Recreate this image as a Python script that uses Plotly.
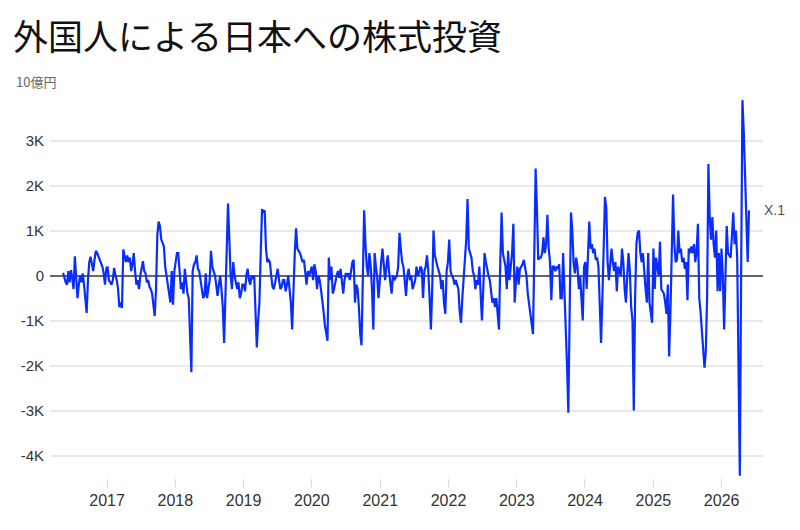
import pandas as pd
import plotly.graph_objects as go

# Weekly net purchases of Japanese stocks by foreigners, 10億円 -> shown in K (thousands)
v2016 = [0.06, -0.05, -0.15, -0.2, 0.1, -0.15, 0.12, -0.05, -0.3, 0.43, -0.1, -0.5, -0.2, 0.0, -0.15, 0.05,
         -0.2, -0.45, -0.83, -0.1, 0.3, 0.42, 0.2, 0.1, 0.35, 0.55, 0.5, 0.42, 0.38, 0.3, 0.2, 0.05, -0.2, 0.15]
v2017 = [0.2, -0.1, -0.15, -0.2, -0.1, 0.17, 0.0, -0.1, -0.3, -0.7, -0.6, -0.72, 0.58, 0.4, 0.3, 0.45,
         0.3, 0.4, 0.1, 0.25, 0.5, 0.1, -0.2, -0.1, -0.3, 0.0, 0.2, 0.32, 0.1, 0.05, -0.15, -0.1,
         -0.25, -0.3, -0.4, -0.7, -0.9, -0.3, 0.9, 1.2, 1.1, 0.8, 0.7, 0.65, 0.2, 0.0, -0.2, -0.4,
         -0.6, 0.1, -0.65, 0.1]
v2018 = [0.3, 0.5, 0.5, -0.05, -0.3, -0.15, -0.4, 0.15, -0.2, -0.4, -0.5, -1.2, -2.15, 0.1, 0.25, 0.3,
         0.45, 0.15, 0.1, -0.1, -0.3, -0.5, -0.45, 0.05, -0.5, -0.3, -0.1, 0.55, 0.2, 0.1, 0.0, -0.2,
         -0.45, -0.2, 0.0, -0.3, -0.7, -1.5, -0.3, 0.5, 1.6, 0.8, 0.0, -0.3, 0.3, 0.0, -0.2, -0.3,
         -0.15, -0.5, -0.4, -0.2]
v2019 = [-0.2, -0.35, 0.0, 0.15, -0.1, -0.2, 0.0, -0.05, 0.0, -0.8, -1.6, -1.0, -0.6, 0.5, 1.48, 1.4,
         1.45, 0.6, 0.3, 0.35, 0.3, 0.0, -0.25, -0.3, -0.15, 0.0, 0.15, -0.1, -0.3, -0.25, -0.1, -0.1,
         -0.35, -0.2, 0.0, -0.3, -0.6, -1.2, -0.2, 0.5, 1.05, 0.6, 0.55, 0.5, 0.4, 0.3, 0.35, 0.1,
         -0.2, 0.1, 0.0, 0.1]
v2020 = [0.2, -0.1, 0.25, 0.1, -0.3, 0.0, -0.1, -0.3, -0.5, -0.8, -1.1, -1.3, -1.45, 0.4, -0.1, 0.2,
         -0.4, -0.3, -0.1, 0.0, 0.1, -0.05, 0.15, -0.2, -0.4, -0.1, 0.05, 0.0, 0.05, -0.1, 0.15, 0.3,
         0.35, -0.6, -0.2, -0.3, -0.7, -1.3, -1.55, 0.2, 1.45, 0.7, 0.2, 0.0, 0.5, 0.2, -0.3, -1.2,
         0.5, 0.2, -0.05, -0.5]
v2021 = [0.0, 0.3, 0.6, 0.2, -0.1, 0.2, 0.45, 0.1, -0.2, -0.4, 0.0, -0.1, -0.05, 0.0, 0.2, 0.95,
         0.6, 0.3, 0.2, -0.1, -0.45, 0.0, 0.15, -0.1, 0.0, -0.3, -0.2, -0.1, 0.2, 0.0, 0.05, 0.2,
         0.15, -0.5, 0.1, 0.2, 0.45, 0.1, -0.5, -1.2, -0.3, 1.0, 0.45, 0.3, 0.2, 0.1, 0.0, -0.3,
         -0.1, -0.6, -0.85, 0.1]
v2022 = [0.3, 0.8, 0.1, 0.0, -0.05, -0.2, -0.1, -0.2, -0.3, -0.8, -1.05, -0.5, 0.0, 0.3, 0.8, 1.7,
         0.6, 0.5, 0.4, 0.1, 0.0, -0.3, -0.1, -0.2, 0.2, -0.4, -1.0, -0.3, 0.5, 0.3, 0.1, 0.0,
         -0.1, -0.3, -0.6, -0.5, -0.7, -0.5, -0.9, -1.2, 0.3, 1.4, 0.5, 0.3, 0.2, -0.3, 0.55, -0.1,
         0.2, 0.5, 1.15, -0.6]
v2023 = [-0.1, 0.2, -0.2, 0.15, 0.2, 0.25, 0.35, 0.15, 0.0, -0.4, -0.6, -0.9, -1.1, -1.3, 0.5, 2.38,
         1.5, 0.35, 0.4, 0.4, 0.5, 0.85, 0.5, 0.7, 1.35, 0.6, 0.3, -0.55, 0.2, 0.2, 0.1, 0.2,
         0.15, 0.25, -0.5, -0.5, 0.5, -0.2, -1.0, -2.0, -3.05, 0.0, 1.4, 1.0, 0.3, 0.05, 0.4, 0.2,
         -0.3, 0.0, -0.7, -1.0]
v2024 = [0.2, 0.3, -0.3, 0.4, 1.2, 0.6, 0.7, 0.5, 0.6, 0.35, 0.4, 0.2, -0.6, -1.5, -0.5, 0.5,
         1.75, 1.5, 0.3, -0.1, 0.3, 0.6, 0.3, 0.1, 0.3, -0.35, 0.2, 0.1, 0.0, 0.6, 0.3, -0.3,
         -0.6, 0.0, 0.5, 0.1, -0.7, -1.0, -3.0, -0.5, 0.7, 0.95, 1.0, 0.5, 0.3, 0.5, 0.0, -0.3,
         -0.6, 0.5, -0.6, -0.8]
v2025 = [-1.05, 0.6, -0.3, 0.4, 0.2, 0.0, 0.75, -0.3, -0.35, -0.4, -0.6, -0.85, -0.2, -1.8, -0.8, 0.5,
         1.8, 0.7, 0.3, 0.35, 1.0, 0.5, 0.6, 0.3, 0.4, 0.15, 0.3, -0.55, 0.6, 0.5, 0.65, 0.5,
         0.7, 0.3, 0.55, 1.15, -0.5, -0.8, -1.3, -1.7, -2.05, -1.7, -0.5, 2.48, 1.3, 0.8, 1.3, 0.7,
         0.4, 1.0, -0.35, 0.5]
v2026 = [-0.35, 0.6, 0.0, -1.2, 0.3, 1.1, 0.5, 0.45, 0.4, 0.9, 1.4, 0.7, 1.0, 0.4, -2.0, -4.45,
         0.0, 3.9, 3.2, 2.3, 1.2, 0.3, 1.45]

values = v2016 + v2017 + v2018 + v2019 + v2020 + v2021 + v2022 + v2023 + v2024 + v2025 + v2026
dates = pd.date_range(start="2016-05-11", periods=len(values), freq="7D")

year_ticks = ["2017-01-01", "2018-01-01", "2019-01-01", "2020-01-01", "2021-01-01",
              "2022-01-01", "2023-01-01", "2024-01-01", "2025-01-01", "2026-01-01"]
year_labels = ["2017", "2018", "2019", "2020", "2021", "2022", "2023", "2024", "2025", "2026"]
y_ticks = [-4, -3, -2, -1, 0, 1, 2, 3]
y_labels = ["-4K", "-3K", "-2K", "-1K", "0", "1K", "2K", "3K"]

title_text = "外国人による日本への株式投資"
unit_text = "10億円"
series_label = "X.1"

fig = go.Figure()
fig.add_trace(go.Scatter(
    x=dates, y=values, mode="lines",
    line=dict(color="#0a2dff", width=2.2),
    hoverinfo="skip", showlegend=False,
))

fig.update_layout(
    width=800, height=530,
    margin=dict(l=50, r=37, t=97, b=52),
    paper_bgcolor="white", plot_bgcolor="white",
    font=dict(family="Liberation Sans, Arial, sans-serif", color="#333"),
    title=dict(text=title_text, x=13 / 800, xref="container", xanchor="left",
               y=1 - 38 / 530, yref="container", yanchor="middle",
               font=dict(family="Noto Sans CJK JP", size=35, color="#111")),
    xaxis=dict(
        type="date", range=["2016-03-02", "2026-08-10"],
        tickvals=year_ticks, ticktext=year_labels,
        showgrid=False, zeroline=False, showline=False,
        ticks="outside", ticklen=8, tickcolor="#d9d9d9", tickwidth=1,
        tickfont=dict(size=16, color="#333"),
    ),
    yaxis=dict(
        range=[-4.5, 3.97],
        tickvals=y_ticks, ticktext=y_labels,
        showgrid=True, gridcolor="#e9e9e9", gridwidth=1.5,
        zeroline=True, zerolinecolor="#666", zerolinewidth=2,
        showline=False, ticks="", ticklabelstandoff=5,
        tickfont=dict(size=15, color="#333"),
    ),
    annotations=[
        dict(text=unit_text, xref="paper", yref="paper", x=(14 - 50) / 713, y=(478 - 81) / 381,
             xanchor="left", yanchor="middle", showarrow=False,
             font=dict(family="Noto Sans CJK JP", size=13, color="#666")),
        dict(text=series_label, xref="paper", yref="y", x=1, y=values[-1],
             xanchor="left", yanchor="middle", xshift=-1, showarrow=False,
             font=dict(size=14, color="#555")),
    ],
)

fig.write_html("out.html")
